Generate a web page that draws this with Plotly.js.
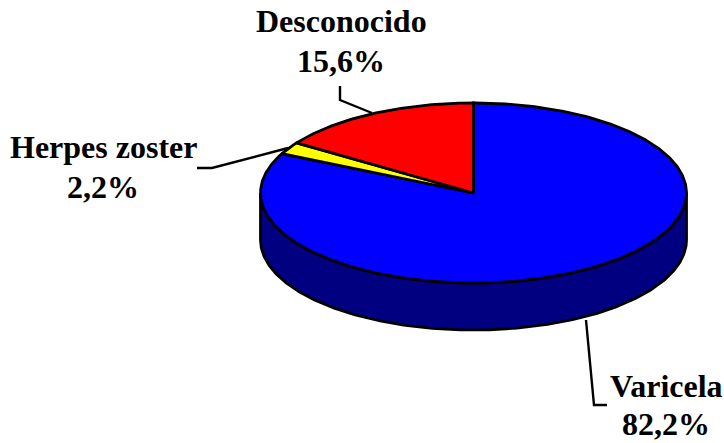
<!DOCTYPE html>
<html>
<head>
<meta charset="utf-8">
<script src="https://cdn.plot.ly/plotly-3.0.1.min.js"></script>
<style>html,body{margin:0;padding:0;background:#fff}#chart{width:724px;height:443px}</style>
</head>
<body>
<div id="chart"></div>
<script>
var categories = ["Varicela", "Herpes zoster", "Desconocido"];
var percentages = [82.2, 2.2, 15.6];
var sliceColors = ["#0000ff", "#ffff00", "#ff0000"];

// Pie projection, in the page-sized axis units
var cx = 473.5, cy = 193, rx = 213, ry = 90, depth = 47;
var sideColor = "#000080";
var outline = {color: "#000000", width: 2.8};

function px(t) { return cx + rx * Math.sin(t); }
function py(t) { return cy - ry * Math.cos(t); }
function arc(a, b) {
  var n = Math.max(2, Math.ceil(Math.abs(b - a) / 0.01)), xs = [], ys = [];
  for (var i = 0; i <= n; i++) {
    var t = a + (b - a) * i / n;
    xs.push(px(t)); ys.push(py(t));
  }
  return {x: xs, y: ys};
}

var traces = [];

// Leader lines
var leaders = [
  {x: [372, 340, 340], y: [113, 100, 86]},
  {x: [288, 212, 197], y: [148, 168, 168]},
  {x: [586, 594, 607], y: [320, 405, 405]}
];
leaders.forEach(function (l) {
  traces.push({type: "scatter", mode: "lines", x: l.x, y: l.y,
    line: {color: "#000000", width: 2.4}, hoverinfo: "skip", showlegend: false});
});

// Visible side wall: the front half of the rim
var front = arc(Math.PI / 2, 3 * Math.PI / 2);
var sideX = front.x.concat(front.x.slice().reverse(), [front.x[0]]);
var sideY = front.y.concat(front.y.map(function (v) { return v + depth; }).reverse(), [front.y[0]]);
traces.push({type: "scatter", mode: "lines", x: sideX, y: sideY, fill: "toself",
  fillcolor: sideColor, line: outline, hoverinfo: "skip", showlegend: false});

// Top face slices, clockwise from twelve o'clock
var total = percentages.reduce(function (a, b) { return a + b; }, 0);
var start = 0;
percentages.forEach(function (v, i) {
  var end = start + v / total * 2 * Math.PI;
  var a = arc(start, end);
  traces.push({type: "scatter", mode: "lines",
    x: [cx].concat(a.x, [cx]), y: [cy].concat(a.y, [cy]),
    fill: "toself", fillcolor: sliceColors[i], line: outline,
    name: categories[i], text: categories[i], hoverinfo: "text", showlegend: false});
  start = end;
});

// Labels: name on one line, value on the next
var labelX = [666, 103, 341];
var nameY = [386, 147, 21];
var valueY = [424, 187, 61];
var font = {family: "Liberation Serif, Times New Roman, serif", size: 32, color: "#000000"};
var annotations = [];
categories.forEach(function (c, i) {
  annotations.push({xref: "x", yref: "y", x: labelX[i], y: nameY[i], text: "<b>" + c + "</b>",
    showarrow: false, font: font, xanchor: "center", yanchor: "middle"});
  annotations.push({xref: "x", yref: "y", x: labelX[i], y: valueY[i],
    text: "<b>" + percentages[i].toFixed(1).replace(".", ",") + "%</b>",
    showarrow: false, font: font, xanchor: "center", yanchor: "middle"});
});

Plotly.newPlot("chart", traces, {
  width: 724, height: 443,
  margin: {l: 0, r: 0, t: 0, b: 0},
  paper_bgcolor: "#ffffff", plot_bgcolor: "#ffffff",
  showlegend: false,
  xaxis: {range: [0, 724], visible: false, fixedrange: true},
  yaxis: {range: [443, 0], visible: false, fixedrange: true},
  annotations: annotations
}, {displayModeBar: false, staticPlot: true});
</script>
</body>
</html>
